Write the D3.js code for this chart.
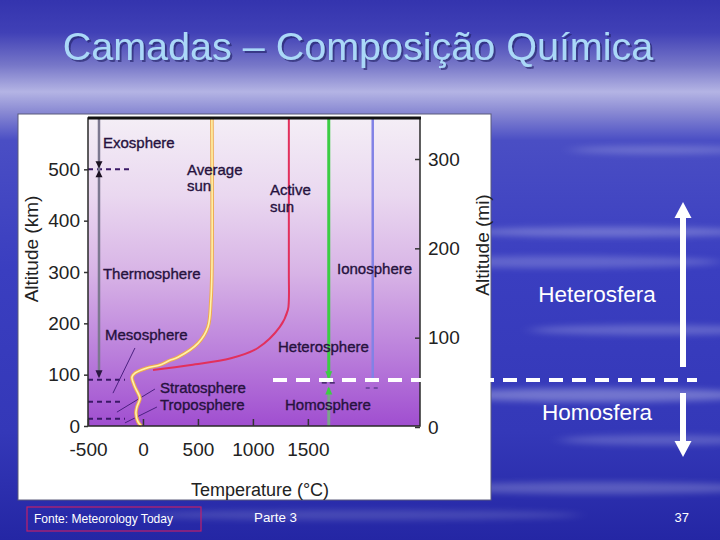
<!DOCTYPE html>
<html><head><meta charset="utf-8">
<script src="https://cdn.jsdelivr.net/npm/d3@7"></script>
<style>body{margin:0;background:#3a3ebe}svg{display:block}</style>
</head><body>
<script>
// ---------- data ----------
const titleText = "Camadas – Composição Química";
const xTickValues = [-500, 0, 500, 1000, 1500];
const kmTickValues = [0, 100, 200, 300, 400, 500];
const miTickValues = [0, 100, 200, 300];
const avgSunAlt  = [0, 8, 25, 37, 54, 64, 76, 86, 95, 103, 113, 119, 128, 134, 161, 193, 245, 300, 600];
const avgSunTemp = [-15, -45, -64, -55, -27, -45, -73, -91, -100, -73, 36, 155, 245, 318, 500, 591, 618, 627, 627];
const activeSunAlt  = [109, 119, 132, 152, 193, 226, 245, 300, 600];
const activeSunTemp = [91, 436, 800, 1045, 1245, 1318, 1327, 1327, 1327];
const layerBoundaryAlt = [500, 90, 47, 14];      // exosphere, mesopause, stratopause, tropopause
const layerBoundaryEnd = [-91, -164, -209, -164]; // temperature where dashed marks end
const homopauseAlt = 89.5;
const chartLabels = [
  {lines: ["Exosphere"], T: -364, alt: 542},
  {lines: ["Average", "sun"], T: 400, alt: 489},
  {lines: ["Active", "sun"], T: 1155, alt: 450},
  {lines: ["Thermosphere"], T: -364, alt: 286},
  {lines: ["Ionosphere"], T: 1765, alt: 296},
  {lines: ["Mesosphere"], T: -345, alt: 168},
  {lines: ["Heterosphere"], T: 1228, alt: 144},
  {lines: ["Stratosphere"], T: 155, alt: 64},
  {lines: ["Troposphere"], T: 155, alt: 31},
  {lines: ["Homosphere"], T: 1292, alt: 31}
];
const leaders = [
  {T1: -73, a1: 152, T2: -273, a2: 64},
  {T1: 109, a1: 72, T2: -237, a2: 27},
  {T1: 127, a1: 37, T2: -164, a2: 6}
];
const exoLineT = -400, homoLineT = 1690, ionoLineT = 2090;

// ---------- setup ----------
const W = 720, H = 540;
const F = "'Liberation Sans', Arial, sans-serif";
const svg = d3.select("body").append("svg").attr("width", W).attr("height", H);
const defs = svg.append("defs");

const bg = defs.append("linearGradient").attr("id", "bg").attr("x1", 0).attr("y1", 0).attr("x2", 0).attr("y2", 1);
[[0, "#3434ae"], [0.06, "#4040b6"], [0.12, "#7676c8"], [0.17, "#b4b4e4"], [0.205, "#8c8cd4"],
 [0.26, "#4a4ec4"], [0.5, "#3a3ec0"], [0.8, "#3438b8"], [1, "#2426a4"]]
  .forEach(([o, c]) => bg.append("stop").attr("offset", o).attr("stop-color", c));

const pg = defs.append("linearGradient").attr("id", "pg").attr("x1", 0).attr("y1", 0).attr("x2", 0).attr("y2", 1);
[[0, "#f4eef6"], [0.25, "#ead8f0"], [0.5, "#d8b4e6"], [0.75, "#bc82dc"], [1, "#a04ed0"]]
  .forEach(([o, c]) => pg.append("stop").attr("offset", o).attr("stop-color", c));

defs.append("filter").attr("id", "blur").attr("x", "-20%").attr("y", "-200%").attr("width", "140%").attr("height", "500%")
  .append("feGaussianBlur").attr("stdDeviation", "8 3");
defs.append("filter").attr("id", "shadow").attr("x", "-5%").attr("y", "-20%").attr("width", "110%").attr("height", "150%")
  .append("feDropShadow").attr("dx", 2).attr("dy", 2).attr("stdDeviation", 0.6)
  .attr("flood-color", "#1c1c64").attr("flood-opacity", 0.6);

svg.append("rect").attr("width", W).attr("height", H).attr("fill", "url(#bg)");
// decorative streaks
const streaks = [[610, 232, 140, 5, 0.25], [560, 262, 160, 6, 0.2], [650, 330, 120, 5, 0.22], [600, 395, 150, 7, 0.3],
                 [660, 440, 100, 5, 0.2], [600, 488, 160, 6, 0.22], [360, 515, 220, 5, 0.15], [660, 150, 90, 4, 0.2]];
svg.append("g").selectAll("ellipse").data(streaks).join("ellipse")
  .attr("cx", d => d[0]).attr("cy", d => d[1]).attr("rx", d => d[2]).attr("ry", d => d[3])
  .attr("fill", "#ffffff").attr("opacity", d => d[4]).attr("filter", "url(#blur)");

// title
svg.append("text").attr("x", 358).attr("y", 60).attr("text-anchor", "middle")
  .attr("font-family", F).attr("font-size", 39.5).attr("fill", "#aad8f8")
  .attr("filter", "url(#shadow)").text(titleText);

// image box
svg.append("rect").attr("x", 18).attr("y", 114).attr("width", 473).attr("height", 386)
  .attr("fill", "#ffffff").attr("stroke", "#5a5a7a").attr("stroke-width", 1);

// scales
const x = d3.scaleLinear().domain([-500, 2520]).range([88, 420]);
const y = d3.scaleLinear().domain([0, 600]).range([426, 118]);
const yMi = d3.scaleLinear().domain([0, 300]).range([427, 159]);

// plot area
svg.append("rect").attr("x", x(-500)).attr("y", y(600)).attr("width", x(2520) - x(-500)).attr("height", y(0) - y(600))
  .attr("fill", "url(#pg)");

const ink = "#26123e";

// layer boundary dashes
svg.append("g").selectAll("line").data(layerBoundaryAlt).join("line")
  .attr("x1", x(-500)).attr("x2", (d, i) => x(layerBoundaryEnd[i]))
  .attr("y1", d => y(d)).attr("y2", d => y(d))
  .attr("stroke", "#3a1866").attr("stroke-width", 2).attr("stroke-dasharray", "5,4");

// leader lines
svg.append("g").selectAll("line").data(leaders).join("line")
  .attr("x1", d => x(d.T1)).attr("y1", d => y(d.a1)).attr("x2", d => x(d.T2)).attr("y2", d => y(d.a2))
  .attr("stroke", "#4a2080").attr("stroke-width", 1);

function tri(cx, tipY, dir, w, h, fill) {
  svg.append("path").attr("d", `M${cx - w / 2},${tipY - dir * h}L${cx + w / 2},${tipY - dir * h}L${cx},${tipY}Z`).attr("fill", fill);
}

// exosphere/thermosphere gray line
svg.append("line").attr("x1", x(exoLineT)).attr("x2", x(exoLineT)).attr("y1", y(600)).attr("y2", y(97))
  .attr("stroke", "#7c7890").attr("stroke-width", 2.5);
tri(x(exoLineT), y(93), 1, 7, 8, "#2a1840");
tri(x(exoLineT), y(500) - 1, 1, 7, 7, "#1a1020");
tri(x(exoLineT), y(500) + 1, -1, 7, 7, "#1a1020");

// ionosphere blue line
svg.append("line").attr("x1", x(ionoLineT)).attr("x2", x(ionoLineT)).attr("y1", y(600)).attr("y2", y(homopauseAlt))
  .attr("stroke", "#8282e6").attr("stroke-width", 2.5);
svg.append("line").attr("x1", x(ionoLineT) - 7).attr("x2", x(ionoLineT) + 7).attr("y1", y(74)).attr("y2", y(74))
  .attr("stroke", "#3a2a70").attr("stroke-width", 1.2).attr("stroke-dasharray", "4,4");

// homosphere/heterosphere green line
svg.append("line").attr("x1", x(homoLineT)).attr("x2", x(homoLineT)).attr("y1", y(600)).attr("y2", y(94))
  .attr("stroke", "#3ccc44").attr("stroke-width", 3);
svg.append("line").attr("x1", x(homoLineT)).attr("x2", x(homoLineT)).attr("y1", y(74)).attr("y2", y(0))
  .attr("stroke", "#7aa48a").attr("stroke-width", 3);
tri(x(homoLineT), y(91), 1, 7, 8, "#3ccc44");
tri(x(homoLineT), y(77), -1, 7, 8, "#3ccc44");
svg.append("line").attr("x1", x(homoLineT) - 7).attr("x2", x(homoLineT) + 7).attr("y1", y(84)).attr("y2", y(84))
  .attr("stroke", "#2a1a50").attr("stroke-width", 1.2).attr("stroke-dasharray", "5,3");

// temperature curves
const line = d3.line().x(d => x(d[0])).y(d => y(d[1])).curve(d3.curveCatmullRom.alpha(0.5));
const avgPts = avgSunAlt.map((a, i) => [avgSunTemp[i], a]);
const actPts = activeSunAlt.map((a, i) => [activeSunTemp[i], a]);
svg.append("path").attr("d", line(actPts)).attr("fill", "none").attr("stroke", "#e2305c").attr("stroke-width", 2);
svg.append("path").attr("d", line(avgPts)).attr("fill", "none").attr("stroke", "#eeaa50").attr("stroke-width", 3.6);
svg.append("path").attr("d", line(avgPts)).attr("fill", "none").attr("stroke", "#fff2a8").attr("stroke-width", 1.6);

// frame
svg.append("rect").attr("x", x(-500)).attr("y", y(600)).attr("width", x(2520) - x(-500)).attr("height", y(0) - y(600))
  .attr("fill", "none").attr("stroke", "#2a2a2a").attr("stroke-width", 1.5);
svg.append("line").attr("x1", x(-500)).attr("x2", x(2520) + 1).attr("y1", y(600)).attr("y2", y(600))
  .attr("stroke", "#111").attr("stroke-width", 3);

// axes
const fmt = d => String(d);
const axL = svg.append("g").attr("transform", `translate(${x(-500)},0)`)
  .call(d3.axisLeft(y).tickValues(kmTickValues).tickFormat(fmt).tickSize(4).tickPadding(4));
const axB = svg.append("g").attr("transform", `translate(0,${y(0)})`)
  .call(d3.axisBottom(x).tickValues(xTickValues).tickFormat(fmt).tickSizeInner(-7).tickSizeOuter(0).tickPadding(16.5));
const axR = svg.append("g").attr("transform", `translate(${x(2520)},0)`)
  .call(d3.axisRight(yMi).tickValues(miTickValues).tickFormat(fmt).tickSizeInner(-5).tickSizeOuter(0).tickPadding(8));
[axL, axB, axR].forEach(g => {
  g.select(".domain").remove();
  g.selectAll("text").attr("font-family", F).attr("font-size", 19).attr("fill", "#222");
  g.selectAll("line").attr("stroke", "#333").attr("stroke-width", 1.5);
});

// axis titles
svg.append("text").attr("transform", "translate(38,249) rotate(-90)").attr("text-anchor", "middle")
  .attr("font-family", F).attr("font-size", 19).attr("fill", "#222").text("Altitude (km)");
svg.append("text").attr("transform", "translate(489,245) rotate(-90)").attr("text-anchor", "middle")
  .attr("font-family", F).attr("font-size", 19).attr("fill", "#222").text("Altitude (mi)");
svg.append("text").attr("x", 260).attr("y", 496).attr("text-anchor", "middle")
  .attr("font-family", F).attr("font-size", 18).attr("fill", "#222").text("Temperature (°C)");

// chart labels
const lg = svg.append("g").attr("font-family", F).attr("font-size", 15).attr("fill", ink)
  .attr("stroke", ink).attr("stroke-width", 0.35);
chartLabels.forEach(d => {
  const t = lg.append("text").attr("x", x(d.T)).attr("y", y(d.alt));
  d.lines.forEach((s, i) => t.append("tspan").attr("x", x(d.T)).attr("dy", i ? 16.5 : 0).text(s));
});

// slide annotation: homopause dashed line and arrows
svg.append("line").attr("x1", 273).attr("x2", 697).attr("y1", y(homopauseAlt)).attr("y2", y(homopauseAlt))
  .attr("stroke", "#ffffff").attr("stroke-width", 4).attr("stroke-dasharray", "14,9");
const ax = 683;
svg.append("line").attr("x1", ax).attr("x2", ax).attr("y1", 215).attr("y2", 367).attr("stroke", "#fff").attr("stroke-width", 6);
svg.append("path").attr("d", `M${ax - 8.5},218L${ax + 8.5},218L${ax},202Z`).attr("fill", "#fff");
svg.append("line").attr("x1", ax).attr("x2", ax).attr("y1", 393).attr("y2", 444).attr("stroke", "#fff").attr("stroke-width", 6);
svg.append("path").attr("d", `M${ax - 8.5},441L${ax + 8.5},441L${ax},457Z`).attr("fill", "#fff");

svg.append("text").attr("x", 597).attr("y", 302).attr("text-anchor", "middle").attr("font-family", F)
  .attr("font-size", 22.5).attr("fill", "#fff").text("Heterosfera");
svg.append("text").attr("x", 597).attr("y", 420).attr("text-anchor", "middle").attr("font-family", F)
  .attr("font-size", 22.5).attr("fill", "#fff").text("Homosfera");

// footer
svg.append("rect").attr("x", 27).attr("y", 507).attr("width", 174).attr("height", 24)
  .attr("fill", "none").attr("stroke", "#c0206a").attr("stroke-width", 1.2);
const fg = svg.append("g").attr("font-family", F).attr("font-size", 13).attr("fill", "#fff");
fg.append("text").attr("x", 34).attr("y", 523).attr("textLength", 139).attr("lengthAdjust", "spacingAndGlyphs")
  .text("Fonte: Meteorology Today");
fg.append("text").attr("x", 254).attr("y", 522).attr("textLength", 43).attr("lengthAdjust", "spacingAndGlyphs").text("Parte 3");
fg.append("text").attr("x", 689).attr("y", 522).attr("text-anchor", "end").text("37");
</script>
</body></html>
